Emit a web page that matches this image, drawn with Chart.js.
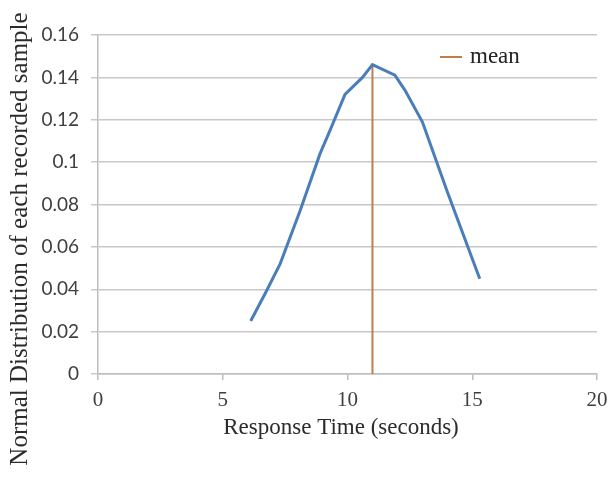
<!DOCTYPE html>
<html>
<head>
<meta charset="utf-8">
<title>Normal Distribution of Response Time</title>
<script src="https://cdn.jsdelivr.net/npm/chart.js@4.4.1/dist/chart.umd.min.js"></script>
<style>
    html, body { margin: 0; padding: 0; background: #fff; }
    #wrap { width: 608px; height: 479px; }
</style>
</head>
<body>
<div id="wrap"><canvas id="normalChart" width="608" height="479"></canvas></div>
<script>
// values
var responseTime = [6.12, 6.7, 7.3, 8.1, 8.9, 9.3, 9.9, 10.6, 11.0, 11.9, 12.3, 13.0, 14.0, 15.3];
var normalDist = [0.025, 0.038, 0.052, 0.077, 0.104, 0.115, 0.132, 0.140, 0.146, 0.141, 0.134, 0.119, 0.086, 0.045];
var meanX = [11.0, 11.0];
var meanY = [0, 0.146];
var xTickLabels = ['0', '5', '10', '15', '20'];
var yTickLabels = ['0', '0.02', '0.04', '0.06', '0.08', '0.1', '0.12', '0.14', '0.16'];

var xTitle = 'Response Time (seconds)';
var yTitle = 'Normal Distribution of each recorded sample';

function toPoints(xs, ys) {
    var pts = [];
    for (var i = 0; i < xs.length; i++) {
        pts.push({x: xs[i], y: ys[i]});
    }
    return pts;
}

var blue = '#4a7ebb';
var brown = '#bf7f4c';

// axis titles + legend drawn by hand (excel style placement)
var extras = {
    id: 'extras',
    afterDraw: function (chart) {
        var ctx = chart.ctx;
        var area = chart.chartArea;
        ctx.save();

        // y title, rotated
        ctx.fillStyle = '#2b2b2b';
        ctx.font = '25px "Liberation Serif"';
        ctx.textAlign = 'center';
        ctx.textBaseline = 'middle';
        ctx.translate(20, 239);
        ctx.rotate(-Math.PI / 2);
        ctx.fillText(yTitle, 0, 0);
        ctx.restore();

        ctx.save();
        ctx.fillStyle = '#2b2b2b';
        ctx.font = '23px "Liberation Serif"';
        ctx.textAlign = 'center';
        ctx.textBaseline = 'middle';
        ctx.fillText(xTitle, 341, area.bottom + 54);

        // legend: only the mean line
        var ly = area.top + 22;
        ctx.strokeStyle = brown;
        ctx.lineWidth = 2;
        ctx.beginPath();
        ctx.moveTo(area.left + 342, ly);
        ctx.lineTo(area.left + 364, ly);
        ctx.stroke();
        ctx.fillStyle = '#222';
        ctx.textAlign = 'left';
        ctx.fillText(chart.data.datasets[1].label, area.left + 372, ly);
        ctx.restore();
    }
};

var ctx = document.getElementById('normalChart');
var chart = new Chart(ctx, {
    type: 'scatter',
    data: {
        datasets: [
            {
                label: 'normal',
                data: toPoints(responseTime, normalDist),
                showLine: true,
                borderColor: blue,
                borderWidth: 3,
                pointRadius: 0,
                tension: 0
            },
            {
                label: 'mean',
                data: toPoints(meanX, meanY),
                showLine: true,
                borderColor: brown,
                borderWidth: 2,
                pointRadius: 0
            }
        ]
    },
    options: {
        responsive: false,
        animation: false,
        layout: {
            padding: {top: 35, right: 11, left: 0, bottom: 0}
        },
        plugins: {
            legend: {display: false},
            tooltip: {enabled: false}
        },
        scales: {
            x: {
                type: 'linear',
                min: 0,
                max: 20,
                afterFit: function (scale) {
                    scale.height = 105;
                    scale.paddingLeft = 0;
                    scale.paddingRight = 0;
                },
                afterBuildTicks: function (scale) {
                    scale.ticks = xTickLabels.map(function (t) { return {value: Number(t)}; });
                },
                ticks: {
                    color: '#3f3f3f',
                    font: {family: 'Liberation Serif', size: 21},
                    padding: 8,
                    maxRotation: 0,
                    callback: function (value, index) { return xTickLabels[index]; }
                },
                grid: {
                    drawOnChartArea: false,
                    drawTicks: true,
                    tickLength: 6,
                    color: '#bdbdbd',
                    lineWidth: 1.5
                },
                border: {display: true, color: '#bdbdbd', width: 1.5}
            },
            y: {
                min: 0,
                max: 0.16,
                afterFit: function (scale) {
                    scale.width = 98;
                    scale.paddingTop = 0;
                    scale.paddingBottom = 0;
                },
                afterBuildTicks: function (scale) {
                    scale.ticks = yTickLabels.map(function (t) { return {value: Number(t)}; });
                },
                ticks: {
                    color: '#3f3f3f',
                    font: {family: 'Lato', size: 19},
                    padding: 12,
                    callback: function (value, index) { return yTickLabels[index]; }
                },
                grid: {
                    color: '#c8c8c8',
                    lineWidth: 1.5,
                    tickLength: 7
                },
                border: {display: true, color: '#bdbdbd', width: 1.5}
            }
        }
    },
    plugins: [extras]
});
</script>
</body>
</html>
